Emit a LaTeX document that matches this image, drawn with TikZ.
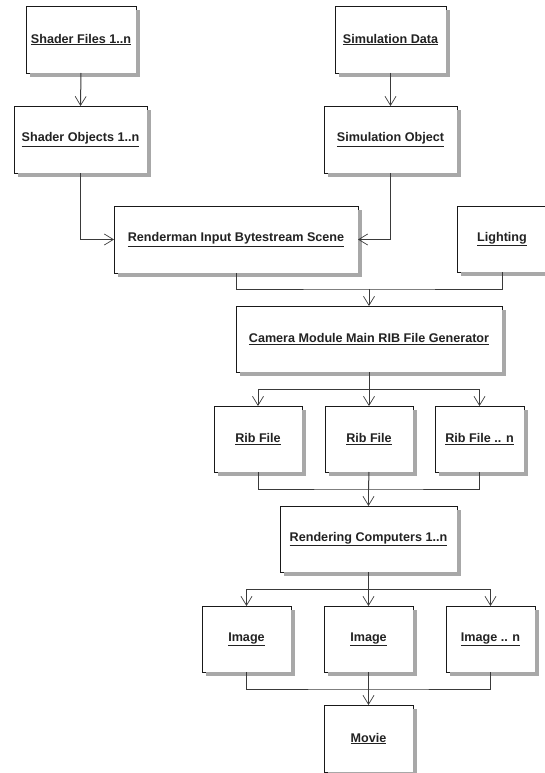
\documentclass[tikz,border=0pt]{standalone}
\usepackage{fontspec}
\setmainfont{Liberation Sans}
\usetikzlibrary{arrows.meta,calc}
\definecolor{linec}{HTML}{3A3A3A}
\definecolor{textc}{HTML}{222222}
\definecolor{shadowc}{HTML}{A8A8A8}
\tikzset{
  box/.style={draw=black!90, line width=0.9pt, fill=white, inner sep=0pt, outer sep=0pt,
    minimum height=66pt,
    font=\fontsize{12.6}{14}\selectfont\bfseries, text=textc},
  conn/.style={draw=linec, line width=1pt},
  arr/.style={conn, -{Straight Barb[length=9pt,width=11pt,line width=0.7pt]}},
  boxshadow/.style={fill=shadowc, draw=none},
}
\begin{document}
\begin{tikzpicture}[x=1pt,y=-1pt]
\useasboundingbox (0,0) rectangle (544,773);
\node[box, minimum width=110pt, minimum height=67pt] (sf) at (81,39.5) {\underline{Shader Files 1..n}};
\node[box, minimum width=111pt, minimum height=67pt] (sd) at (390.5,39.5) {\underline{Simulation Data}};
\node[box, minimum width=133pt, minimum height=67pt] (so) at (80.5,139.5) {\underline{Shader Objects 1..n}};
\node[box, minimum width=133pt, minimum height=67pt] (sob) at (390.5,139.5) {\underline{Simulation Object}};
\node[box, minimum width=244pt, minimum height=67pt] (rm) at (236,239.5) {\underline{Renderman Input Bytestream Scene}};
\node[box, minimum width=90pt] (lt) at (502,239) {\underline{Lighting}};
\node[box, minimum width=266pt] (cam) at (369,339) {\underline{Camera Module Main RIB File Generator}};
\node[box, minimum width=88pt] (r1) at (258,439) {\underline{Rib File}};
\node[box, minimum width=88pt] (r2) at (369,439) {\underline{Rib File}};
\node[box, minimum width=89pt] (r3) at (479.5,439) {\underline{Rib File .. n}};
\node[box, minimum width=177pt] (rc) at (368.5,539) {\underline{Rendering Computers 1..n}};
\node[box, minimum width=89pt] (i1) at (246.5,639) {\underline{Image}};
\node[box, minimum width=89pt] (i2) at (368.5,639) {\underline{Image}};
\node[box, minimum width=89pt] (i3) at (490.5,639) {\underline{Image .. n}};
\node[box, minimum width=89pt, minimum height=67pt] (mv) at (368.5,738.5) {\underline{Movie}};

% shadows: right strip and bottom strip of each box
\foreach \nn/\w/\h in {sf/110/67,sd/111/67,so/133/67,sob/133/67,rm/244/67,lt/90/66,cam/266/66,
  r1/88/66,r2/88/66,r3/89/66,rc/177/66,i1/89/66,i2/89/66,i3/89/66,mv/89/67}{
  \fill[boxshadow] (\nn.north east) ++(0.45,4) rectangle ++(4,\h);
  \fill[boxshadow] (\nn.south west) ++(4,0.45) rectangle ++(\w,3.6);
}

\draw[arr] (sf.south) -- (so.north);
\draw[arr] (sd.south) -- (sob.north);
\draw[arr] (so.south) |- (rm.west);
\draw[arr] (sob.south) |- (rm.east);

\coordinate (m1) at ($(cam.north)+(0,-17)$);
\draw[conn] (rm.south) |- (m1) -| (lt.south);
\draw[arr] (m1) -- (cam.north);

\coordinate (b1) at ($(cam.south)+(0,17)$);
\draw[arr] (cam.south) -- (r2.north);
\draw[arr] (b1) -| (r1.north);
\draw[arr] (b1) -| (r3.north);

\coordinate (m2) at ($(rc.north)+(0,-17)$);
\draw[conn] (r1.south) |- (m2) -| (r3.south);
\draw[conn] (r2.south) -- (m2);
\draw[arr] (m2) -- (rc.north);

\coordinate (b2) at ($(rc.south)+(0,17)$);
\draw[arr] (rc.south) -- (i2.north);
\draw[arr] (b2) -| (i1.north);
\draw[arr] (b2) -| (i3.north);

\coordinate (m3) at ($(mv.north)+(0,-16)$);
\draw[conn] (i1.south) |- (m3) -| (i3.south);
\draw[conn] (i2.south) -- (m3);
\draw[arr] (m3) -- (mv.north);
\end{tikzpicture}
\end{document}
